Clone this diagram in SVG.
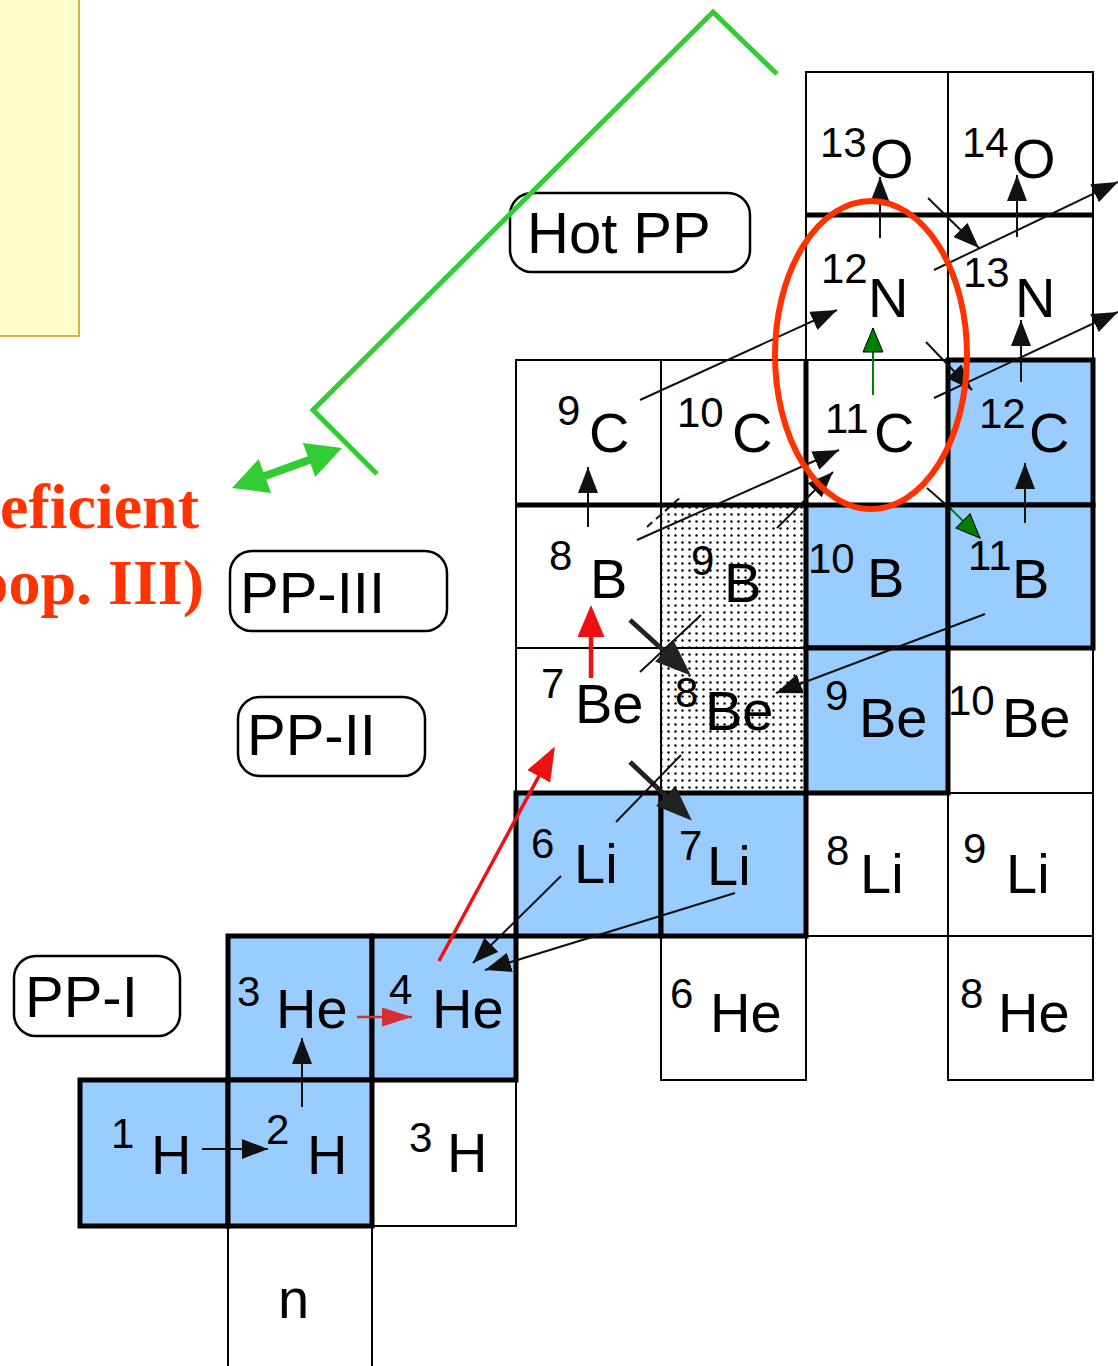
<svg xmlns="http://www.w3.org/2000/svg" width="1118" height="1366" viewBox="0 0 1118 1366">
<style>
.cell{fill:#fff;stroke:#000;stroke-width:2}
.blue{fill:#99ccff;stroke:#000;stroke-width:5}
.dot{fill:url(#dots);stroke:#000;stroke-width:2}
.sym{font-family:"Liberation Sans",Arial,sans-serif;font-size:56px;fill:#000}
.sup{font-family:"Liberation Sans",Arial,sans-serif;font-size:42px;fill:#000}
.lbl{fill:#fff;stroke:#000;stroke-width:2.5}
.lt{font-family:"Liberation Sans",Arial,sans-serif;font-size:58px;fill:#000}
.red{font-family:"Liberation Serif","Times New Roman",serif;font-weight:bold;font-size:64px;fill:#ff3300}
.c{fill:none;stroke:#111;stroke-width:2}
.thick{fill:none;stroke:#000;stroke-width:5}
</style>
<defs>
<pattern id="dots" x="0" y="0" width="7" height="7" patternUnits="userSpaceOnUse">
<rect width="7" height="7" fill="#fff"/>
<circle cx="3.5" cy="3.5" r="1.2" fill="#000"/>
</pattern>
<marker id="ah" markerUnits="userSpaceOnUse" markerWidth="26" markerHeight="20" refX="26" refY="10" orient="auto"><path d="M0,0 L26,10 L0,20 z" fill="#111"/></marker>
<marker id="ahBig" markerUnits="userSpaceOnUse" markerWidth="36" markerHeight="28" refX="28" refY="14" orient="auto"><path d="M0,0 L36,14 L0,28 z" fill="#222"/></marker>
<marker id="ahRedS" markerUnits="userSpaceOnUse" markerWidth="30" markerHeight="19" refX="30" refY="9.5" orient="auto"><path d="M0,0 L30,9.5 L0,19 z" fill="#d83030"/></marker>
<marker id="ahRed" markerUnits="userSpaceOnUse" markerWidth="34" markerHeight="26" refX="30" refY="13" orient="auto"><path d="M0,0 L34,13 L0,26 z" fill="#ee1111"/></marker>
<marker id="ahRedT" markerUnits="userSpaceOnUse" markerWidth="32" markerHeight="27" refX="26" refY="13.5" orient="auto"><path d="M0,0 L32,13.5 L0,27 z" fill="#ee1111"/></marker>
<marker id="ahGreen" markerUnits="userSpaceOnUse" markerWidth="26" markerHeight="22" refX="25" refY="11" orient="auto"><path d="M1,1 L25,11 L1,21 z" fill="#008000" stroke="#000" stroke-width="1"/></marker>
</defs>

<rect x="-2" y="-2" width="81" height="338" fill="#ffffcc" stroke="#d8b048" stroke-width="2"/>

<text class="red" x="199" y="528" text-anchor="end">eficient</text>
<text class="red" x="204" y="604" text-anchor="end">pop. III)</text>

<!-- white cells -->
<g id="n-13O"><rect class="cell" x="806" y="72" width="142" height="143"/><text class="sup" x="820" y="157">13</text><text class="sym" x="870" y="178">O</text></g>
<g id="n-14O"><rect class="cell" x="948" y="72" width="145" height="143"/><text class="sup" x="962" y="157">14</text><text class="sym" x="1012" y="178">O</text></g>
<g id="n-12N"><rect class="cell" x="806" y="215" width="142" height="145"/><text class="sup" x="821" y="283">12</text><text class="sym" x="868" y="317">N</text></g>
<g id="n-13N"><rect class="cell" x="948" y="215" width="145" height="145"/><text class="sup" x="963" y="287">13</text><text class="sym" x="1015" y="317">N</text></g>
<g id="n-9C"><rect class="cell" x="516" y="360" width="145" height="145"/><text class="sup" x="557" y="425">9</text><text class="sym" x="589" y="452">C</text></g>
<g id="n-10C"><rect class="cell" x="661" y="360" width="145" height="145"/><text class="sup" x="677" y="427">10</text><text class="sym" x="732" y="452">C</text></g>
<g id="n-11C"><rect class="cell" x="806" y="360" width="142" height="145"/><text class="sup" x="825" y="433">11</text><text class="sym" x="874" y="452">C</text></g>
<g id="n-8B"><rect class="cell" x="516" y="505" width="145" height="143"/><text class="sup" x="549" y="570">8</text><text class="sym" x="590" y="598">B</text></g>
<g id="n-9B"><rect class="dot" x="661" y="505" width="145" height="143"/><text class="sup" x="691" y="575">9</text><text class="sym" x="724" y="602">B</text></g>
<g id="n-7Be"><rect class="cell" x="516" y="648" width="145" height="145"/><text class="sup" x="541" y="698">7</text><text class="sym" x="575" y="723">Be</text></g>
<g id="n-8Be"><rect class="dot" x="661" y="648" width="145" height="145"/><text class="sup" x="675" y="707">8</text><text class="sym" x="705" y="730">Be</text></g>
<g id="n-10Be"><rect class="cell" x="948" y="648" width="145" height="145"/><text class="sup" x="948" y="715">10</text><text class="sym" x="1002" y="737">Be</text></g>
<g id="n-8Li"><rect class="cell" x="806" y="793" width="142" height="143"/><text class="sup" x="826" y="865">8</text><text class="sym" x="860" y="893">Li</text></g>
<g id="n-9Li"><rect class="cell" x="948" y="793" width="145" height="143"/><text class="sup" x="963" y="863">9</text><text class="sym" x="1006" y="893">Li</text></g>
<g id="n-6He"><rect class="cell" x="661" y="936" width="145" height="144"/><text class="sup" x="670" y="1008">6</text><text class="sym" x="710" y="1032">He</text></g>
<g id="n-8He"><rect class="cell" x="948" y="936" width="145" height="144"/><text class="sup" x="960" y="1008">8</text><text class="sym" x="998" y="1032">He</text></g>
<g id="n-3H"><rect class="cell" x="372" y="1080" width="144" height="146"/><text class="sup" x="409" y="1152">3</text><text class="sym" x="447" y="1172">H</text></g>
<g id="n-n"><path class="cell" d="M228,1367 V1226 H372 V1367"/><text class="sym" x="278" y="1318">n</text></g>

<!-- blue cells -->
<g id="n-12C"><rect class="blue" x="948" y="360" width="145" height="145"/><text class="sup" x="979" y="428">12</text><text class="sym" x="1029" y="452">C</text></g>
<g id="n-10B"><rect class="blue" x="806" y="505" width="142" height="143"/><text class="sup" x="808" y="573">10</text><text class="sym" x="867" y="597">B</text></g>
<g id="n-11B"><rect class="blue" x="948" y="505" width="145" height="143"/><text class="sup" x="968" y="570">11</text><text class="sym" x="1012" y="598">B</text></g>
<g id="n-9Be"><rect class="blue" x="806" y="648" width="142" height="145"/><text class="sup" x="825" y="710">9</text><text class="sym" x="859" y="737">Be</text></g>
<g id="n-6Li"><rect class="blue" x="516" y="793" width="145" height="143"/><text class="sup" x="531" y="858">6</text><text class="sym" x="574" y="883">Li</text></g>
<g id="n-7Li"><rect class="blue" x="661" y="793" width="145" height="143"/><text class="sup" x="679" y="860">7</text><text class="sym" x="707" y="885">Li</text></g>
<g id="n-3He"><rect class="blue" x="228" y="936" width="144" height="144"/><text class="sup" x="237" y="1006">3</text><text class="sym" x="276" y="1028">He</text></g>
<g id="n-4He"><rect class="blue" x="372" y="936" width="144" height="144"/><text class="sup" x="389" y="1004">4</text><text class="sym" x="432" y="1028">He</text></g>
<g id="n-1H"><rect class="blue" x="80" y="1080" width="148" height="146"/><text class="sup" x="111" y="1148">1</text><text class="sym" x="151" y="1174">H</text></g>
<g id="n-2H"><rect class="blue" x="228" y="1080" width="144" height="146"/><text class="sup" x="266" y="1144">2</text><text class="sym" x="307" y="1174">H</text></g>

<!-- extra thick grid lines -->
<g id="grid-thick">
<path class="thick" d="M806,215 H1093"/>
<path class="thick" d="M516,505 H806"/>
<path class="thick" d="M806,360 V505"/>
</g>

<!-- labels -->
<g id="lbl-hotpp"><rect class="lbl" x="510" y="193" width="240" height="79" rx="22"/><text class="lt" x="527" y="253">Hot PP</text></g>
<g id="lbl-pp3"><rect class="lbl" x="230" y="551" width="217" height="80" rx="22"/><text class="lt" x="240" y="613">PP-III</text></g>
<g id="lbl-pp2"><rect class="lbl" x="238" y="697" width="187" height="79" rx="22"/><text class="lt" x="247" y="755">PP-II</text></g>
<g id="lbl-pp1"><rect class="lbl" x="14" y="956" width="166" height="80" rx="22"/><text class="lt" x="25" y="1017">PP-I</text></g>

<!-- connectors -->
<g id="connectors">
<line class="c" x1="202" y1="1149" x2="268" y2="1149" marker-end="url(#ah)"/>
<line class="c" x1="302" y1="1107" x2="302" y2="1038" marker-end="url(#ah)"/>
<line x1="357" y1="1017" x2="412" y2="1017" stroke="#d83030" stroke-width="2.5" marker-end="url(#ahRedS)"/>
<line x1="439" y1="961" x2="553" y2="750" stroke="#ee1111" stroke-width="3.5" marker-end="url(#ahRed)"/>
<line x1="591" y1="678" x2="591" y2="611" stroke="#ee1111" stroke-width="4.5" marker-end="url(#ahRedT)"/>
<line class="c" x1="588" y1="527" x2="588" y2="467" marker-end="url(#ah)"/>
<line class="c" x1="640" y1="400" x2="837" y2="310" marker-end="url(#ah)"/>
<line class="c" x1="637" y1="540" x2="839" y2="450" marker-end="url(#ah)"/>
<line class="c" x1="777" y1="528" x2="833" y2="472" marker-end="url(#ah)"/>
<line class="c" x1="647" y1="527" x2="683" y2="495" stroke-dasharray="7,5"/>
<line x1="630" y1="620" x2="685" y2="670" stroke="#222" stroke-width="5" marker-end="url(#ahBig)"/>
<line class="c" x1="701" y1="615" x2="640" y2="672"/>
<line x1="630" y1="762" x2="686" y2="815" stroke="#222" stroke-width="5" marker-end="url(#ahBig)"/>
<line class="c" x1="681" y1="755" x2="616" y2="822"/>
<line class="c" x1="561" y1="876" x2="473" y2="963" marker-end="url(#ah)"/>
<line class="c" x1="735" y1="893" x2="485" y2="970" marker-end="url(#ah)"/>
<line class="c" x1="985" y1="614" x2="776" y2="693" marker-end="url(#ah)"/>
<line class="c" x1="927" y1="488" x2="952" y2="510"/>
<line x1="952" y1="510" x2="980" y2="538" stroke="#008000" stroke-width="2" marker-end="url(#ahGreen)"/>
<line x1="873" y1="395" x2="873" y2="328" stroke="#008000" stroke-width="2" marker-end="url(#ahGreen)"/>
<line class="c" x1="880" y1="238" x2="880" y2="177" marker-end="url(#ah)"/>
<line class="c" x1="928" y1="198" x2="979" y2="248" marker-end="url(#ah)"/>
<line class="c" x1="1017" y1="237" x2="1017" y2="175" marker-end="url(#ah)"/>
<line class="c" x1="934" y1="270" x2="1118" y2="182" marker-end="url(#ah)"/>
<line class="c" x1="1021" y1="382" x2="1021" y2="320" marker-end="url(#ah)"/>
<line class="c" x1="934" y1="398" x2="1118" y2="312" marker-end="url(#ah)"/>
<line class="c" x1="926" y1="342" x2="972" y2="390" marker-end="url(#ah)"/>
<line class="c" x1="1025" y1="523" x2="1025" y2="463" marker-end="url(#ah)"/>
</g>

<!-- green bracket and double arrow -->
<g id="hotpp-bracket">
<polyline points="777,74 713,12 313,410 377,474" fill="none" stroke="#33cc33" stroke-width="5"/>
<polygon points="232,488 258.7,459.1 263.5,472.2 307.7,456.2 302.9,443.1 342,448 315.3,476.9 310.5,463.8 266.3,479.8 271.1,492.9" fill="#33cc33"/>
</g>

<ellipse id="highlight" cx="871" cy="355" rx="96" ry="154" fill="none" stroke="#ff3300" stroke-width="6"/>
</svg>
